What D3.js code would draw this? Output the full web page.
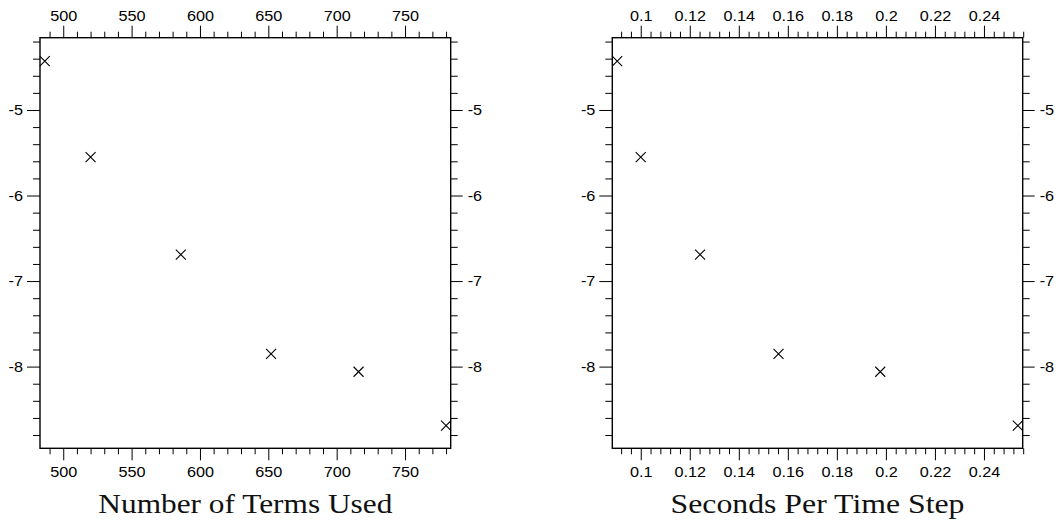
<!DOCTYPE html>
<html><head><meta charset="utf-8">
<script src="https://cdn.jsdelivr.net/npm/d3@7"></script>
<style>body{margin:0;background:#fff}svg{display:block}</style>
</head><body><svg id="c" width="1063" height="524"></svg>
<script>
// ---- data ----
const terms = [486.5, 520, 586, 652, 716, 780];
const seconds = [0.0904, 0.1, 0.1242, 0.1562, 0.1977, 0.2538];
const logError = [-4.43, -5.55, -6.69, -7.85, -8.06, -8.69];
const termTicks = [500, 550, 600, 650, 700, 750];
const termMinor = d3.range(49, 79).map(d => d * 10).filter(d => d % 50 !== 0);
const secTicks = [0.1, 0.12, 0.14, 0.16, 0.18, 0.2, 0.22, 0.24];
const secMinor = d3.range(23, 65).map(d => +(d * 0.004).toFixed(3)).filter(d => Math.round(d * 1000) % 20 !== 0);
const yTicks = [-8, -7, -6, -5];
const yMinor = d3.range(-44, -20).map(d => +(d * 0.2).toFixed(1)).filter(d => !Number.isInteger(d));
const xTitles = ["Number of Terms Used", "Seconds Per Time Step"];

// ---- layout ----
const svg = d3.select("#c");
const yTop = 37.7, yBot = 448.3;
const y = d3.scaleLinear().domain([-8.955, -4.155]).range([yBot, yTop]);
const panels = [
  {x0: 40, x1: 450.7, domain: [483, 783.4], xs: terms, major: termTicks, minor: termMinor, fmt: d => String(d), title: xTitles[0]},
  {x0: 612.3, x1: 1022.7, domain: [0.0884, 0.2558], xs: seconds, major: secTicks, minor: secMinor, fmt: d => String(+d.toFixed(3)), title: xTitles[1]}
];
const font = "Liberation Sans", fs = "14.5px", sx = 1.12;

function style(g) {
  g.select(".domain").remove();
  g.selectAll("line").attr("stroke", "#000").attr("stroke-width", 1);
  g.selectAll("text").attr("fill", "#000").style("font-family", font).style("font-size", fs)
    .each(function() {
      const t = d3.select(this);
      const xv = +(t.attr("x") || 0);
      t.attr("x", xv / sx).attr("transform", `scale(${sx},1)`);
    });
}

panels.forEach(p => {
  const x = d3.scaleLinear().domain(p.domain).range([p.x0, p.x1]);
  const g = svg.append("g");
  g.append("g").attr("transform", `translate(0,${yTop})`)
    .call(d3.axisTop(x).tickValues(p.major).tickSize(12).tickPadding(5).tickFormat(p.fmt)).call(style);
  g.append("g").attr("transform", `translate(0,${yTop})`)
    .call(d3.axisTop(x).tickValues(p.minor).tickSize(6).tickFormat("")).call(style);
  g.append("g").attr("transform", `translate(0,${yBot})`)
    .call(d3.axisBottom(x).tickValues(p.major).tickSize(12).tickPadding(6).tickFormat(p.fmt)).call(style);
  g.append("g").attr("transform", `translate(0,${yBot})`)
    .call(d3.axisBottom(x).tickValues(p.minor).tickSize(6).tickFormat("")).call(style);
  g.append("g").attr("transform", `translate(${p.x0},0)`)
    .call(d3.axisLeft(y).tickValues(yTicks).tickSize(13).tickPadding(4).tickFormat(d => String(d))).call(style);
  g.append("g").attr("transform", `translate(${p.x0},0)`)
    .call(d3.axisLeft(y).tickValues(yMinor).tickSize(7).tickFormat("")).call(style);
  g.append("g").attr("transform", `translate(${p.x1},0)`)
    .call(d3.axisRight(y).tickValues(yTicks).tickSize(12).tickPadding(5).tickFormat(d => String(d))).call(style);
  g.append("g").attr("transform", `translate(${p.x1},0)`)
    .call(d3.axisRight(y).tickValues(yMinor).tickSize(7).tickFormat("")).call(style);
  g.append("rect").attr("x", p.x0).attr("y", yTop).attr("width", p.x1 - p.x0).attr("height", yBot - yTop)
    .attr("fill", "none").attr("stroke", "#000").attr("stroke-width", 1.4);
  g.selectAll("path.pt").data(p.xs.map((v, i) => [v, logError[i]])).enter().append("path")
    .attr("class", "pt")
    .attr("transform", d => `translate(${x(d[0])},${y(d[1])})`)
    .attr("d", "M-5,-5L5,5M-5,5L5,-5")
    .attr("stroke", "#000").attr("stroke-width", 1.1).attr("fill", "none");
  g.append("text").attr("x", (p.x0 + p.x1) / 2).attr("y", 513.3).attr("text-anchor", "middle")
    .style("font-family", "Liberation Serif").style("font-size", "27px").attr("fill", "#111")
    .attr("textLength", 294).attr("lengthAdjust", "spacingAndGlyphs")
    .text(p.title);
});
</script></body></html>
